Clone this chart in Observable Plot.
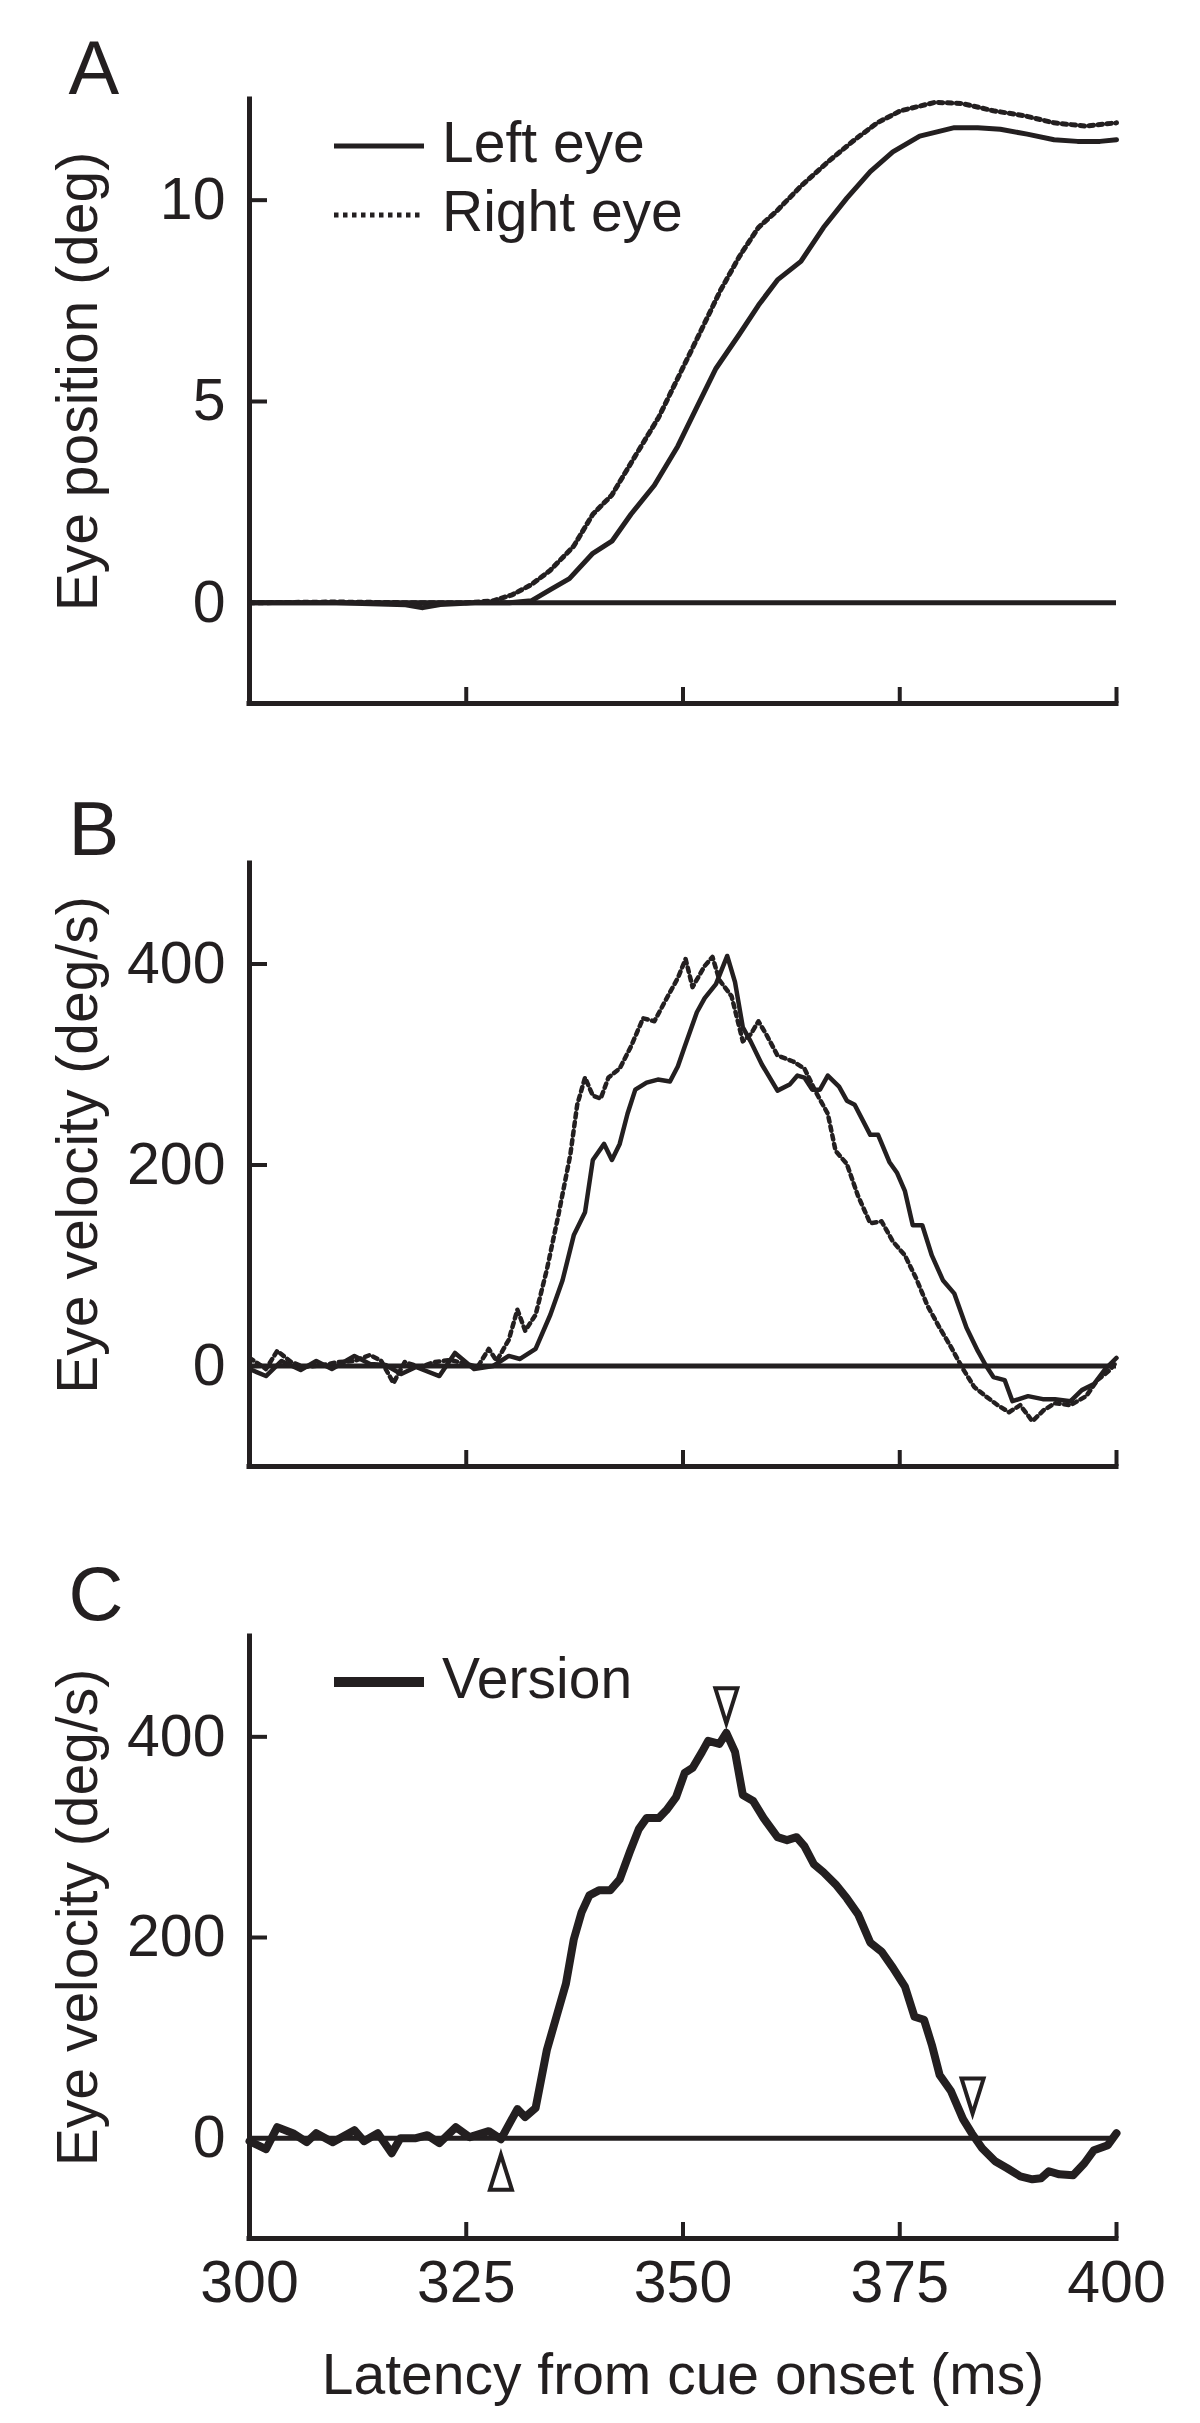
<!DOCTYPE html>
<html><head><meta charset="utf-8">
<script src="https://cdn.jsdelivr.net/npm/d3@7"></script>
<script src="https://cdn.jsdelivr.net/npm/@observablehq/plot@0.6"></script>
<style>
html,body{margin:0;padding:0;background:#fff;}
#wrap{position:relative;width:1200px;height:2423px;overflow:hidden;}
#wrap svg{position:absolute;left:0;display:block;}
</style></head><body><div id="wrap"></div>
<script>
// ---------- shared axis data ----------
const xDomain = [300, 400];
const xTicks = [300, 325, 350, 375, 400];
const xLabel = "Latency from cue onset (ms)";

// ---------- Panel A: eye position (deg) ----------
const posDomain = [-2.5, 12.5];
const posTicks = [0, 5, 10];
const posLabel = "Eye position (deg)";
const leftTimeA = [300, 310, 318, 320, 322, 326, 330, 332.5, 334.7, 336.9, 339.6, 341.8, 344, 346.7, 349.4, 351.6, 353.8, 356.5, 358.7, 360.9, 363.6, 366.2, 368.9, 371.6, 374.2, 377.3, 381.3, 384, 386.6, 389.7, 392.8, 395.5, 398.1, 400];
const leftPosA  = [0, 0, -0.05, -0.12, -0.04, 0, 0, 0.05, 0.33, 0.6, 1.23, 1.53, 2.2, 2.92, 3.89, 4.86, 5.82, 6.67, 7.39, 8.02, 8.48, 9.32, 10.05, 10.71, 11.2, 11.59, 11.8, 11.8, 11.76, 11.64, 11.5, 11.46, 11.46, 11.5];
const rightTimeA = [300, 310, 320, 325, 328.1, 330.3, 332.5, 334.7, 337.4, 339.6, 341.8, 344.5, 347.2, 349.4, 351.6, 354.3, 356.5, 358.7, 360.9, 363.6, 366.7, 369.8, 372.4, 375.1, 379.1, 382.2, 385.8, 389.3, 392.8, 396.4, 400];
const rightPosA  = [0, 0.02, 0, 0, 0.05, 0.2, 0.45, 0.81, 1.41, 2.2, 2.68, 3.65, 4.61, 5.58, 6.55, 7.75, 8.6, 9.32, 9.75, 10.35, 10.95, 11.5, 11.92, 12.22, 12.43, 12.4, 12.22, 12.1, 11.92, 11.84, 11.92];

// ---------- Panel B: eye velocity (deg/s) ----------
const velDomain = [-100, 500];
const velTicks = [0, 200, 400];
const velLabel = "Eye velocity (deg/s)";
const leftTimeB = [300, 301.9, 303.7, 305.9, 307.7, 309.5, 312.1, 313.9, 315.7, 317.5, 319.2, 321.9, 323.7, 325.9, 328.1, 329.9, 331.2, 333, 334.7, 336.1, 337.4, 338.7, 339.6, 340.9, 341.8, 342.7, 343.6, 344.5, 345.8, 347.1, 348.5, 349.4, 350.2, 351.6, 352.5, 353.8, 355.1, 356, 356.9, 357.8, 359.1, 360.9, 362.3, 363.2, 364, 364.9, 365.8, 366.7, 368, 368.9, 369.8, 371.6, 372.5, 373.8, 374.7, 375.6, 376.5, 377.6, 378.7, 380, 381.3, 382.7, 384, 384.9, 385.8, 387.1, 388, 389.8, 391.5, 392.9, 394.7, 396, 397.4, 398.7, 400];
const leftVelB  = [-3, -10, 5, -4, 5, -3, 10, 2, 1, -8, -1, -10, 13, -3, 0, 10, 7, 17, 51, 85, 130, 153, 205, 221, 205, 221, 251, 275, 282, 285, 283, 298, 318, 352, 366, 380, 408, 382, 337, 323, 300, 274, 280, 289, 287, 275, 275, 289, 278, 264, 260, 230, 230, 203, 192, 174, 140, 140, 110, 85, 72, 38, 15, 1, -11, -14, -35, -30, -33, -33, -35, -24, -18, -3, 8];
const rightTimeB = [300, 301.9, 303.2, 304.8, 306.3, 308.5, 310.3, 312.1, 313.9, 315.2, 316.6, 317.9, 319.6, 321.4, 323.2, 325, 326.3, 327.6, 328.5, 329.9, 330.9, 331.8, 333, 334.3, 335.6, 337, 337.8, 338.7, 339.6, 340.5, 341.4, 342.7, 344, 345.4, 346.7, 348, 349.4, 350.3, 351.1, 352.5, 353.4, 354.2, 355.6, 356.9, 357.8, 358.7, 359.6, 360.9, 362.7, 364, 365.3, 366.7, 367.6, 368.9, 370.2, 371.6, 372.9, 374.2, 375.6, 376.9, 378.2, 379.6, 380.9, 382.3, 383.6, 384.9, 386.3, 387.6, 388.9, 390.3, 391.6, 392.9, 394.7, 396.5, 397.8, 399.1, 400];
const rightVelB  = [8, -3, 15, 4, -1, 1, 4, 5, 11, 5, -17, 4, -1, 4, 6, 2, -1, 17, 5, 26, 56, 35, 51, 96, 149, 210, 260, 287, 269, 266, 287, 296, 318, 346, 343, 364, 386, 405, 377, 398, 407, 384, 368, 323, 330, 343, 330, 309, 303, 296, 273, 251, 214, 201, 169, 142, 144, 124, 110, 87, 60, 38, 19, -3, -21, -30, -39, -46, -39, -55, -44, -37, -39, -30, -14, -5, 4];

// ---------- Panel C: version velocity (deg/s) ----------
const versionTime = [300, 301.9, 303.2, 305, 306.6, 307.7, 309.6, 312.1, 313.2, 314.8, 316.4, 317.4, 319.2, 320.5, 321.9, 323.8, 325.4, 327.6, 329, 330.9, 331.8, 333, 334.3, 335.4, 336.5, 337.4, 338.3, 339.2, 340.3, 341.6, 342.7, 343.9, 344.9, 345.8, 347.2, 348.1, 349.2, 350.2, 351.1, 352.2, 352.9, 354.2, 355, 356, 356.9, 358.1, 359.3, 360.9, 362, 363.1, 364, 365.1, 366.2, 367.6, 368.9, 370.2, 371.6, 372.9, 374.2, 375.6, 376.7, 377.8, 378.7, 379.6, 380.9, 382.3, 383.3, 384.5, 386, 387.4, 388.9, 390.3, 391.3, 392.2, 393.4, 395, 396.3, 397.4, 399, 400];
const versionVel  = [-3, -11, 11, 5, -4, 5, -4, 8, -3, 5, -15, 0, 0, 3, -5, 11, 1, 7, -1, 29, 21, 30, 88, 121, 154, 198, 225, 242, 247, 247, 258, 286, 308, 319, 319, 327, 340, 364, 369, 385, 396, 393, 404, 385, 342, 336, 319, 300, 297, 300, 291, 273, 265, 253, 239, 223, 195, 186, 170, 151, 121, 118, 93, 63, 47, 19, 5, -10, -23, -30, -38, -41, -40, -33, -36, -37, -25, -12, -7, 5];
// event markers (onset, peak, offset)
const markerTime = [329, 355, 383.4];
const markerVel  = [-34, 431, 42];
const markerDir  = ["up", "down", "down"];

// ---------- style ----------
const ink = "#231f20";
const font = "'Liberation Sans', Arial, Helvetica, sans-serif";
const W = 1200, ML = 249, MR = 84;
const dotted = "4.5,4.5";

const zip = (ts, vs) => ts.map((t, i) => ({t, v: vs[i]}));
const markers = markerTime.map((t, i) => ({t, v: markerVel[i], dir: markerDir[i]}));

const triUp = {draw(ctx, size) { const r = Math.sqrt(size / Math.PI), w = r * 0.63;
  ctx.moveTo(0, -r); ctx.lineTo(w, r); ctx.lineTo(-w, r); ctx.closePath(); }};
const triDown = {draw(ctx, size) { const r = Math.sqrt(size / Math.PI), w = r * 0.63;
  ctx.moveTo(-w, -r); ctx.lineTo(w, -r); ctx.lineTo(0, r); ctx.closePath(); }};

function legendMark(items, dyTop) {
  return (index, scales, values, dims) => {
    const g = d3.create("svg:g");
    items.forEach((it, i) => {
      const y = dims.marginTop + dyTop + i * 69;
      g.append("line")
        .attr("x1", dims.marginLeft + 85).attr("x2", dims.marginLeft + 175)
        .attr("y1", y).attr("y2", y)
        .attr("stroke", ink).attr("stroke-width", it.width)
        .attr("stroke-dasharray", it.dash || null);
      g.append("text")
        .attr("x", dims.marginLeft + 193).attr("y", y + 16)
        .attr("text-anchor", "start")
        .attr("font-size", 57).attr("fill", ink)
        .text(it.label);
    });
    return g.node();
  };
}

function panel({top, height, marginTop, marginBottom, yDomain, yTicks, yLabel, letter, letterDy, marks, showX}) {
  const frameW = W - ML - MR, frameH = height - marginTop - marginBottom;
  const all = [
    Plot.ruleY([0], {stroke: ink, strokeWidth: 5}),
    ...marks,
    Plot.ruleX([xDomain[0]], {stroke: ink, strokeWidth: 5, strokeLinecap: "square"}),
    Plot.ruleY([yDomain[0]], {stroke: ink, strokeWidth: 5, strokeLinecap: "square"}),
    Plot.tickY(yTicks, {y: d => d, stroke: ink, strokeWidth: 4, insetRight: frameW - 18}),
    Plot.tickX(xTicks.slice(1), {x: d => d, stroke: ink, strokeWidth: 4, insetTop: frameH - 16}),
    Plot.axisY(yTicks, {tickSize: 0, tickPadding: 24, fontSize: 59, fill: ink, label: null}),
    Plot.text([yLabel], {frameAnchor: "left", textAnchor: "middle", rotate: -90, dx: -171, dy: -20, fontSize: 57, fill: ink, text: d => d}),
    Plot.text([letter], {frameAnchor: "top-left", textAnchor: "start", lineAnchor: "bottom", dx: -181, dy: letterDy, fontSize: 76, fill: ink, text: d => d})
  ];
  if (showX) {
    all.push(Plot.axisX(xTicks, {tickSize: 0, tickPadding: 22, fontSize: 59, fill: ink, label: null}));
    all.push(Plot.text([xLabel], {frameAnchor: "bottom", lineAnchor: "bottom", dy: 155, fontSize: 57, fill: ink, text: d => d}));
  }
  const svg = Plot.plot({
    width: W, height, marginLeft: ML, marginRight: MR, marginTop, marginBottom,
    style: {fontFamily: font, color: ink, background: "white", overflow: "visible"},
    x: {domain: xDomain, axis: showX ? undefined : null},
    y: {domain: yDomain},
    marks: all
  });
  svg.style.top = top + "px";
  document.getElementById("wrap").appendChild(svg);
}

// Panel A
panel({
  top: 0, height: 780, marginTop: 99, marginBottom: 77,
  yDomain: posDomain, yTicks: posTicks, yLabel: posLabel, letter: "A", letterDy: -6,
  marks: [
    Plot.line(zip(rightTimeA, rightPosA), {x: "t", y: "v", stroke: ink, strokeWidth: 5, strokeDasharray: dotted}),
    Plot.line(zip(leftTimeA, leftPosA), {x: "t", y: "v", stroke: ink, strokeWidth: 5}),
    legendMark([{label: "Left eye", width: 5}, {label: "Right eye", width: 5, dash: dotted}], 47)
  ]
});

// Panel B
panel({
  top: 780, height: 780, marginTop: 83, marginBottom: 94,
  yDomain: velDomain, yTicks: velTicks, yLabel: velLabel, letter: "B", letterDy: -9,
  marks: [
    Plot.line(zip(rightTimeB, rightVelB), {x: "t", y: "v", stroke: ink, strokeWidth: 4.5, strokeDasharray: dotted}),
    Plot.line(zip(leftTimeB, leftVelB), {x: "t", y: "v", stroke: ink, strokeWidth: 4.5})
  ]
});

// Panel C
panel({
  top: 1560, height: 863, marginTop: 76, marginBottom: 185,
  yDomain: velDomain, yTicks: velTicks, yLabel: velLabel, letter: "C", letterDy: -17,
  showX: true,
  marks: [
    Plot.line(zip(versionTime, versionVel), {x: "t", y: "v", stroke: ink, strokeWidth: 8}),
    Plot.dot(markers.filter(d => d.dir === "up"), {x: "t", y: "v", r: 17.5, symbol: triUp, fill: "white", stroke: ink, strokeWidth: 4}),
    Plot.dot(markers.filter(d => d.dir === "down"), {x: "t", y: "v", r: 17.5, symbol: triDown, fill: "white", stroke: ink, strokeWidth: 4}),
    legendMark([{label: "Version", width: 10}], 46)
  ]
});
</script></body></html>
